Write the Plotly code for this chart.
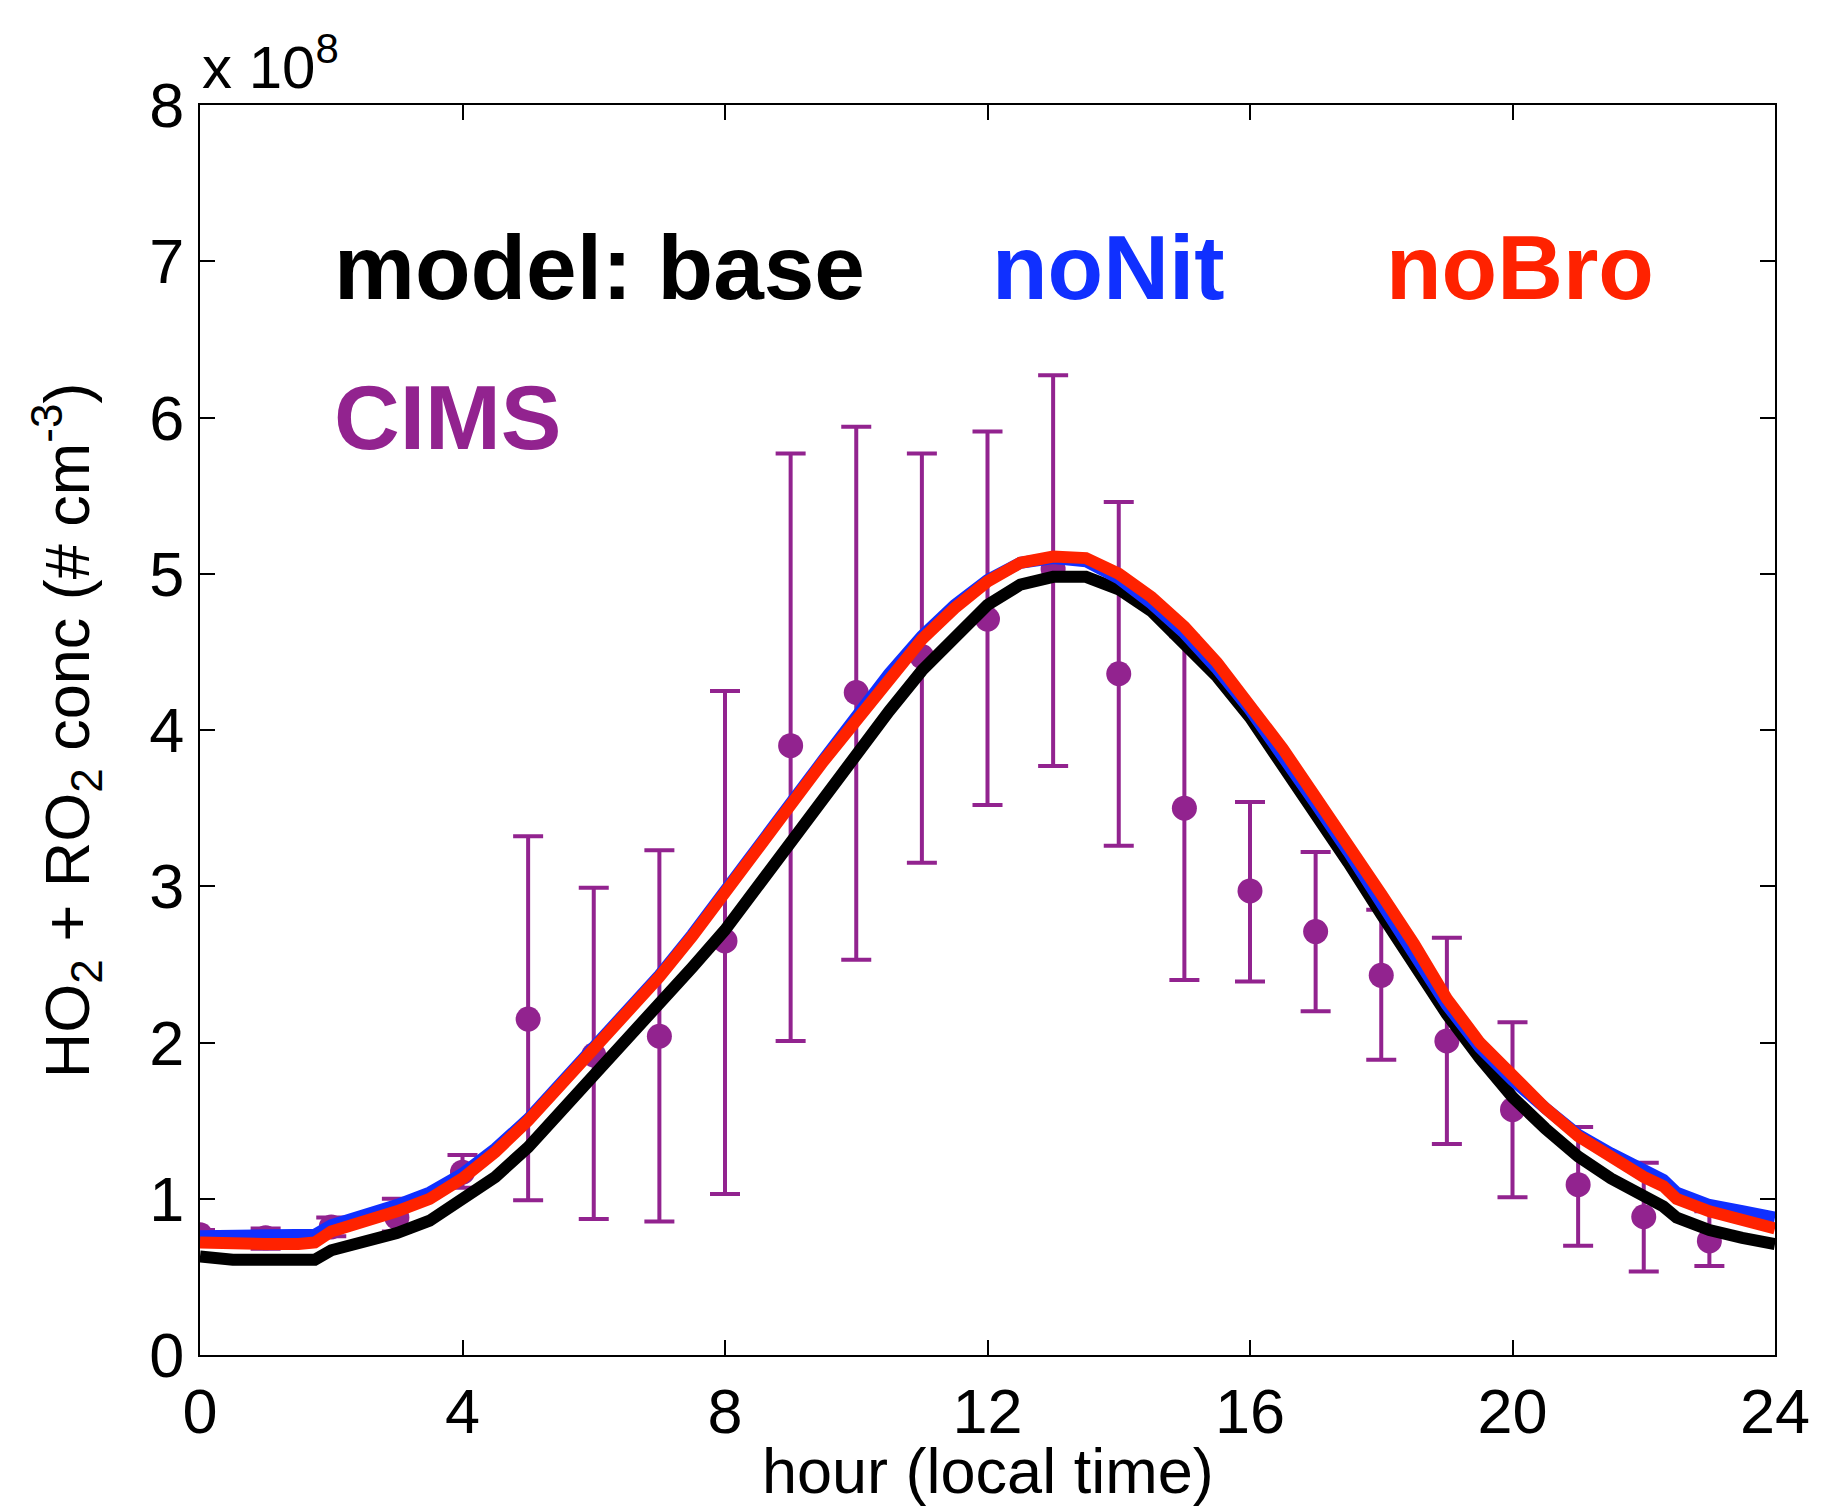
import plotly.graph_objects as go

# values in units of 1e8 molecules cm^-3
hours_cims = list(range(0, 24))
cims_mean = [0.77, 0.75, 0.82, 0.88, 1.17, 2.15, 1.92, 2.04, 2.65, 3.90, 4.24, 4.47,
             4.71, 5.03, 4.36, 3.50, 2.97, 2.71, 2.43, 2.01, 1.57, 1.09, 0.885, 0.73]
cims_upper = [0.80, 0.81, 0.88, 1.00, 1.28, 3.32, 2.99, 3.23, 4.25, 5.77, 5.94, 5.77,
              5.91, 6.27, 5.46, 4.60, 3.54, 3.22, 2.85, 2.67, 2.13, 1.46, 1.23, 0.92]
cims_lower = [0.74, 0.68, 0.76, 0.79, 1.07, 0.99, 0.87, 0.855, 1.03, 2.01, 2.53, 3.15,
              3.52, 3.77, 3.26, 2.40, 2.39, 2.20, 1.89, 1.35, 1.01, 0.70, 0.535, 0.57]

hours_model = [0, 0.5, 1, 1.5, 1.75, 2, 2.5, 3, 3.5, 4, 4.5, 5, 5.5, 6, 6.5, 7, 7.5, 8,
               8.5, 9, 9.5, 10, 10.5, 11, 11.5, 12, 12.5, 13, 13.5, 14, 14.5, 15, 15.5,
               16, 16.5, 17, 17.5, 18, 18.5, 19, 19.5, 20, 20.5, 21, 21.5, 22, 22.3,
               22.5, 23, 23.5, 24]
model_base = [0.63, 0.61, 0.61, 0.61, 0.61, 0.67, 0.72, 0.78, 0.86, 0.99, 1.14, 1.33,
              1.56, 1.78, 2.00, 2.24, 2.48, 2.72, 3.00, 3.27, 3.58, 3.86, 4.12, 4.38,
              4.60, 4.80, 4.93, 4.98, 4.98, 4.90, 4.76, 4.56, 4.34, 4.08, 3.78, 3.47,
              3.15, 2.82, 2.50, 2.18, 1.90, 1.65, 1.45, 1.27, 1.13, 1.02, 0.95, 0.88,
              0.80, 0.75, 0.71]
model_nonit = [0.76, 0.76, 0.76, 0.76, 0.77, 0.83, 0.89, 0.96, 1.04, 1.16, 1.32, 1.51,
               1.74, 1.97, 2.19, 2.43, 2.69, 2.96, 3.25, 3.53, 3.81, 4.09, 4.36, 4.60,
               4.80, 4.96, 5.07, 5.10, 5.08, 4.97, 4.81, 4.62, 4.39, 4.13, 3.84, 3.53,
               3.22, 2.90, 2.58, 2.24, 1.97, 1.76, 1.58, 1.41, 1.29, 1.18, 1.12, 1.04,
               0.96, 0.92, 0.88]
model_nobro = [0.72, 0.71, 0.71, 0.71, 0.72, 0.79, 0.85, 0.92, 1.00, 1.13, 1.30, 1.50,
               1.73, 1.96, 2.18, 2.42, 2.68, 2.95, 3.24, 3.52, 3.80, 4.07, 4.33, 4.58,
               4.78, 4.95, 5.07, 5.11, 5.10, 5.00, 4.85, 4.66, 4.43, 4.17, 3.88, 3.57,
               3.27, 2.95, 2.63, 2.28, 2.00, 1.78, 1.58, 1.40, 1.26, 1.14, 1.08, 1.00,
               0.92, 0.87, 0.81]

x_ticks = [0, 4, 8, 12, 16, 20, 24]
y_ticks = [0, 1, 2, 3, 4, 5, 6, 7, 8]

PURPLE = "#92238F"
BLUE = "#1030FF"
RED = "#FF2200"
FONT = "Liberation Sans, Arial, Helvetica, sans-serif"

err_plus = [u - m for u, m in zip(cims_upper, cims_mean)]
err_minus = [m - l for m, l in zip(cims_mean, cims_lower)]

fig = go.Figure()
fig.add_trace(go.Scatter(
    x=hours_cims, y=cims_mean, mode="markers", name="CIMS",
    marker=dict(color=PURPLE, size=25, line=dict(width=0)),
    error_y=dict(type="data", symmetric=False, array=err_plus, arrayminus=err_minus,
                 color=PURPLE, thickness=4, width=15),
))
fig.add_trace(go.Scatter(x=hours_model, y=model_base, mode="lines", name="base",
                         line=dict(color="black", width=12)))
fig.add_trace(go.Scatter(x=hours_model, y=model_nonit, mode="lines", name="noNit",
                         line=dict(color=BLUE, width=12)))
fig.add_trace(go.Scatter(x=hours_model, y=model_nobro, mode="lines", name="noBro",
                         line=dict(color=RED, width=12)))

axis_common = dict(showgrid=False, zeroline=False, showline=True, linecolor="black",
                   linewidth=2, mirror="ticks", ticks="inside", ticklen=15,
                   tickwidth=2, tickcolor="black",
                   tickfont=dict(family=FONT, size=63, color="black"))

fig.update_layout(
    width=1822, height=1506,
    margin=dict(l=200, r=41, t=105, b=151),
    plot_bgcolor="white", paper_bgcolor="white",
    showlegend=False,
    font=dict(family=FONT, color="black"),
    xaxis=dict(range=[0, 24], tickvals=x_ticks, ticklabelstandoff=0, **axis_common),
    yaxis=dict(range=[0, 8], tickvals=y_ticks, ticklabelstandoff=1, **axis_common),
)

annots = [
    dict(text="hour (local time)", x=0.5, y=-0.093, xref="paper", yref="paper",
         xanchor="center", yanchor="middle", font=dict(size=63)),
    dict(text="HO<sub>2</sub> + RO<sub>2</sub> conc (# cm<sup>-3</sup>)", x=-0.085, y=0.5,
         xref="paper", yref="paper", xanchor="center", yanchor="middle",
         textangle=-90, font=dict(size=63)),
    dict(text="x 10<sup>8</sup>", x=0.0, y=1.0, xref="paper", yref="paper",
         xanchor="left", yanchor="bottom", yshift=2, font=dict(size=60)),
    dict(text="<b>model: base</b>", x=0.084, y=0.870, xref="paper", yref="paper",
         xanchor="left", yanchor="middle", font=dict(size=91, color="black")),
    dict(text="<b>noNit</b>", x=0.5016, y=0.870, xref="paper", yref="paper",
         xanchor="left", yanchor="middle", font=dict(size=91, color=BLUE)),
    dict(text="<b>noBro</b>", x=0.752, y=0.870, xref="paper", yref="paper",
         xanchor="left", yanchor="middle", font=dict(size=91, color=RED)),
    dict(text="<b>CIMS</b>", x=0.084, y=0.7496, xref="paper", yref="paper",
         xanchor="left", yanchor="middle", font=dict(size=91, color=PURPLE)),
]
for a in annots:
    a.setdefault("showarrow", False)
    fig.add_annotation(**a)

fig.write_html("out.html")
